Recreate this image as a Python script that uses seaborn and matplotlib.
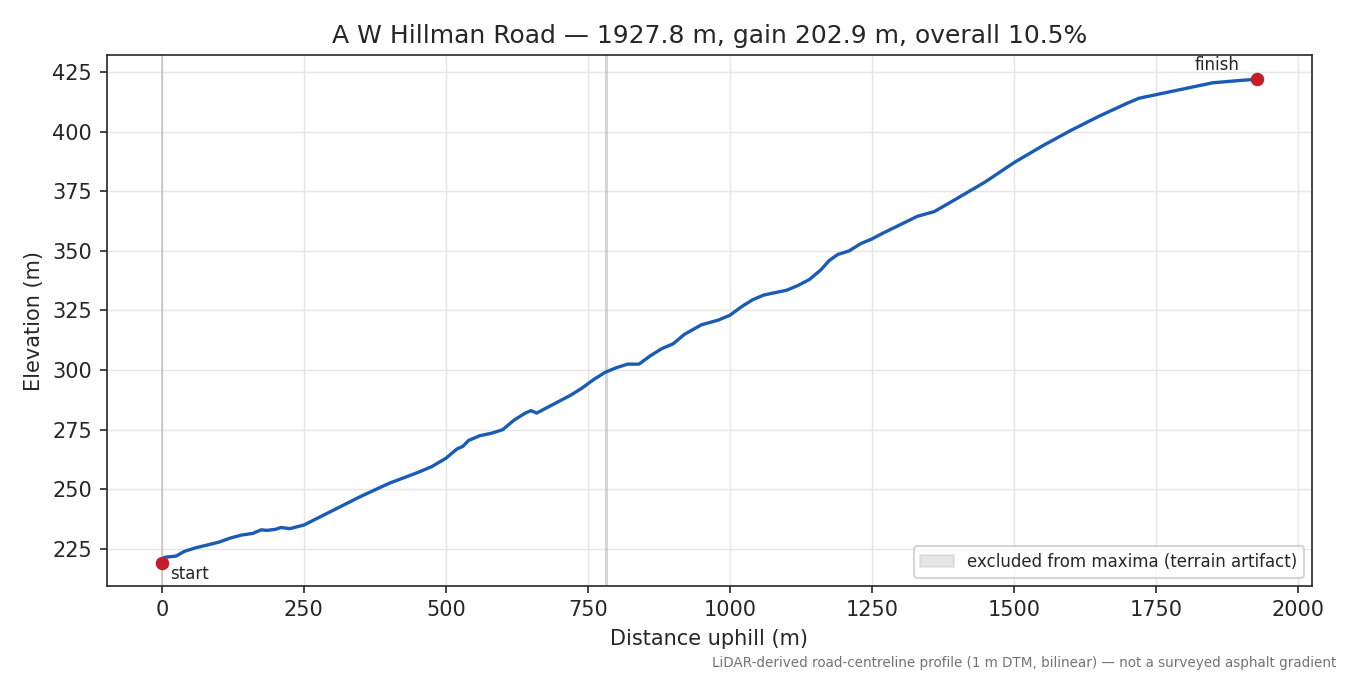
import numpy as np
import seaborn as sns
import matplotlib.pyplot as plt
from matplotlib.patches import Patch

distance = [0, 5, 25, 40, 60, 100, 120, 140, 160, 175, 185, 200, 210, 225, 250, 300, 350,
            400, 450, 475, 500, 510, 520, 530, 540, 560, 580, 600, 620, 640, 650, 660, 680,
            700, 720, 740, 760, 780, 800, 820, 840, 860, 880, 900, 920, 950, 980, 1000,
            1020, 1040, 1060, 1080, 1100, 1120, 1140, 1160, 1175, 1190, 1210, 1230, 1250,
            1270, 1300, 1330, 1360, 1400, 1450, 1500, 1550, 1600, 1650, 1700, 1720, 1750,
            1800, 1850, 1900, 1927.8]
elevation = [219.2, 221.5, 222, 224, 225.5, 227.8, 229.5, 230.8, 231.5, 233, 232.8, 233.2,
             234, 233.5, 235, 241, 247, 252.5, 257, 259.5, 263, 265, 267, 268, 270.5, 272.5,
             273.5, 275, 279, 282, 283, 282, 284.5, 287, 289.5, 292.5, 296, 299, 301, 302.5,
             302.5, 306, 309, 311, 315, 319, 321, 323, 326.5, 329.5, 331.5, 332.5, 333.5,
             335.5, 338, 342, 346, 348.5, 350, 353, 355, 357.5, 361, 364.5, 366.5, 372, 379,
             387, 394, 400.5, 406.5, 412, 414, 415.5, 418, 420.5, 421.5, 422]
excluded = [(-2, 3), (780, 786)]

sns.set_style("ticks")
fig, ax = plt.subplots(figsize=(9, 4.5), dpi=150)
for a, b in excluded:
    ax.axvspan(a, b, color="0.6", alpha=0.4, lw=0)
sns.lineplot(x=distance, y=elevation, ax=ax, color="#1a5cb5", lw=1.6)
ax.scatter([distance[0], distance[-1]], [elevation[0], elevation[-1]], color="#c41e2a", s=30, zorder=5)
ax.text(distance[0] + 15, elevation[0] - 7, "start", fontsize=8)
ax.text(distance[-1] - 110, elevation[-1] + 4, "finish", fontsize=8)
ax.set_xlim(-97, 2025)
ax.set_ylim(209.5, 432)
ax.grid(True, color="0.9", lw=0.7)
ax.set_xlabel("Distance uphill (m)")
ax.set_ylabel("Elevation (m)")
ax.set_title("A W Hillman Road — 1927.8 m, gain 202.9 m, overall 10.5%")
ax.legend(handles=[Patch(facecolor="0.6", alpha=0.25, edgecolor="0.7",
                         label="excluded from maxima (terrain artifact)")],
          loc="lower right", fontsize=8)
fig.subplots_adjust(left=0.079, right=0.972, top=0.918, bottom=0.132)
fig.text(0.99, 0.012, "LiDAR-derived road-centreline profile (1 m DTM, bilinear) — not a surveyed asphalt gradient",
         ha="right", fontsize=6.5, color="0.45")
fig.savefig("out.png")
